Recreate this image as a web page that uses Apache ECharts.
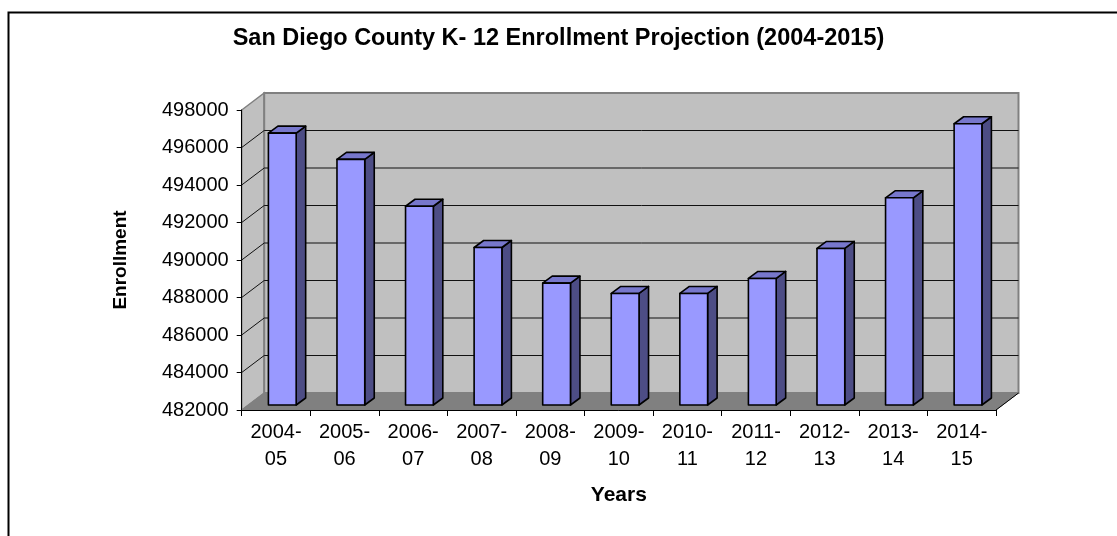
<!DOCTYPE html>
<html><head><meta charset="utf-8">
<script src="https://cdn.jsdelivr.net/npm/echarts@6/dist/echarts.min.js"></script>
<style>html,body{margin:0;padding:0;background:#fff}#c{width:1117px;height:536px}</style>
</head><body><div id="c"></div>
<script>
// ---- data ----
const categories = ['2004-\n05','2005-\n06','2006-\n07','2007-\n08','2008-\n09','2009-\n10','2010-\n11','2011-\n12','2012-\n13','2013-\n14','2014-\n15'];
const enrollment = [496500, 495100, 492600, 490400, 488500, 487950, 487950, 488750, 490350, 493050, 497000];
const yTicks = [482000, 484000, 486000, 488000, 490000, 492000, 494000, 496000, 498000];
const yMin = 482000, yMax = 498000, yStep = 2000;
const titleText = 'San Diego County K- 12 Enrollment Projection (2004-2015)';

// ---- 3D look (styling) ----
const DEPTH = [22.5, -17];      // full depth of the box
const BAR_OFF = [6.3, -5];      // where bar fronts sit in depth
const BAR_DEPTH = [9.5, -7];    // bar depth
const FONT = 'Liberation Sans, Arial, sans-serif';

const chart = echarts.init(document.getElementById('c'));

function renderWalls(params, api) {
  const cs = params.coordSys;
  const x0 = cs.x, x1 = cs.x + cs.width;
  const yT = cs.y, yB = cs.y + cs.height;
  const [dx, dy] = DEPTH;
  const ch = [];
  ch.push({type:'polygon', shape:{points:[[x0,yT],[x0+dx,yT+dy],[x0+dx,yB+dy],[x0,yB]]},
    style:{fill:'#c0c0c0', stroke:'#808080', lineWidth:1.5}});
  ch.push({type:'rect', shape:{x:x0+dx, y:yT+dy, width:x1-x0, height:yB-yT},
    style:{fill:'#c0c0c0', stroke:'#808080', lineWidth:2}});
  yTicks.forEach(v => {
    if (v === yMin || v === yMax) return;
    const y = api.coord([0, v])[1];
    ch.push({type:'line', shape:{x1:x0+dx, y1:y+dy, x2:x1+dx, y2:y+dy}, style:{stroke:'#111', lineWidth:1}});
    ch.push({type:'line', shape:{x1:x0, y1:y, x2:x0+dx, y2:y+dy}, style:{stroke:'#111', lineWidth:1}});
  });
  ch.push({type:'polygon', shape:{points:[[x0,yB],[x1,yB],[x1+dx,yB+dy],[x0+dx,yB+dy]]},
    style:{fill:'#808080', stroke:'#808080', lineWidth:1}});
  ch.push({type:'line', shape:{x1:x1, y1:yB, x2:x1+dx, y2:yB+dy}, style:{stroke:'#000', lineWidth:1}});
  return {type:'group', children:ch};
}

function renderBar(params, api) {
  const i = api.value(0), v = api.value(1);
  const band = api.size([1, 0])[0];
  const w = band * 0.405;
  const top = api.coord([i, v]);
  const bot = api.coord([i, yMin]);
  const cx = top[0] + BAR_OFF[0];
  const yt = top[1] + BAR_OFF[1];
  const yb = bot[1] + BAR_OFF[1];
  const xl = cx - w/2, xr = cx + w/2;
  const [dx, dy] = BAR_DEPTH;
  const st = {stroke:'#000', lineWidth:1.6, lineJoin:'round'};
  return {type:'group', children:[
    {type:'polygon', shape:{points:[[xr,yt],[xr+dx,yt+dy],[xr+dx,yb+dy],[xr,yb]]}, style:Object.assign({fill:'#4d4d85'}, st)},
    {type:'polygon', shape:{points:[[xl,yt],[xr,yt],[xr+dx,yt+dy],[xl+dx,yt+dy]]}, style:Object.assign({fill:'#7777cc'}, st)},
    {type:'rect', shape:{x:xl, y:yt, width:w, height:yb-yt}, style:Object.assign({fill:'#9999ff'}, st)}
  ]};
}

chart.setOption({
  animation:false,
  backgroundColor:'#fff',
  title:{text:titleText, left:'center', top:27, padding:0,
    textStyle:{fontFamily:FONT, fontSize:23.5, fontWeight:'bold', color:'#000'}},
  grid:{left:241.7, right:121, top:110, bottom:126, outerBoundsMode:'none', containLabel:false},
  xAxis:{type:'category', data:categories, z:10,
    axisLine:{show:true, lineStyle:{color:'#000', width:1}},
    axisTick:{show:true, length:6, lineStyle:{color:'#000'}},
    axisLabel:{interval:0, fontFamily:FONT, fontSize:20, lineHeight:27, color:'#000', margin:9},
    splitLine:{show:false},
    name:'Years', nameLocation:'middle', nameGap:75,
    nameTextStyle:{fontFamily:FONT, fontSize:21, fontWeight:'bold', color:'#000'}},
  yAxis:{type:'value', min:yMin, max:yMax, interval:yStep, z:10,
    axisLine:{show:true, lineStyle:{color:'#000', width:1}},
    axisTick:{show:true, length:5, lineStyle:{color:'#000'}},
    axisLabel:{fontFamily:FONT, fontSize:20, color:'#000', margin:13, formatter:v => String(v)},
    splitLine:{show:false},
    name:'Enrollment', nameLocation:'middle', nameGap:111,
    nameTextStyle:{fontFamily:FONT, fontSize:19, fontWeight:'bold', color:'#000'}},
  graphic:[{type:'rect', left:6, top:10, shape:{width:1200, height:600}, silent:true,
    style:{fill:'none', stroke:'#000', lineWidth:2}, z:100}],
  series:[
    {type:'custom', coordinateSystem:'cartesian2d', renderItem:renderWalls, data:[[0, yMin]], clip:false, z:1, silent:true},
    {type:'custom', coordinateSystem:'cartesian2d', renderItem:renderBar,
      data:enrollment.map((v, i) => [i, v]), clip:false, z:2,
      encode:{x:0, y:1}}
  ]
});
</script></body></html>
